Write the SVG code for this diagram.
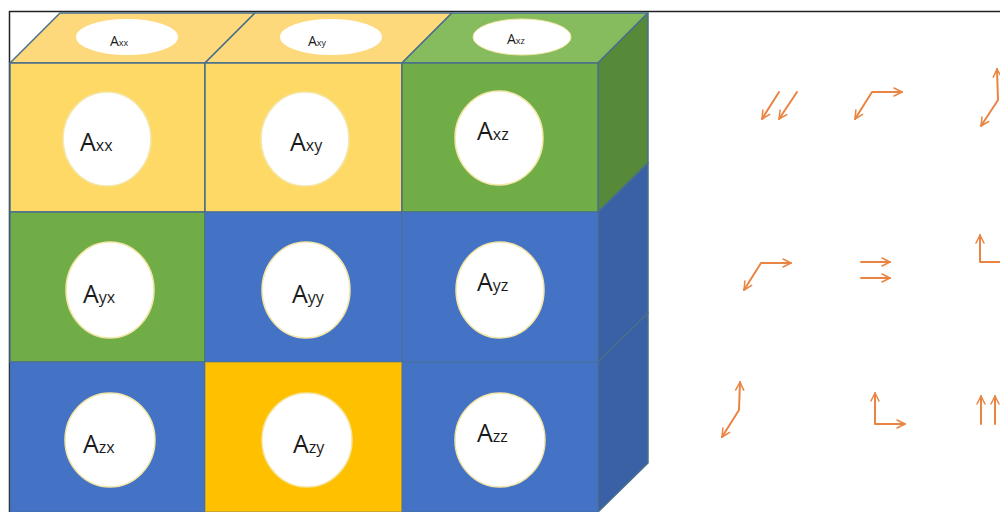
<svg xmlns="http://www.w3.org/2000/svg" width="1000" height="512" viewBox="0 0 1000 512">
<defs>
<style>
.edge{stroke:#4A6F8A;stroke-width:1.5;stroke-linejoin:round}
.y{fill:#FFD966}.yt{fill:#FED97C}.g{fill:#70AD47}.gt{fill:#87BC5E}.gs{fill:#578A38}
.b{fill:#4472C4}.bs{fill:#3A60A6}.o{fill:#FFC000}
.c{fill:#FFFFFF;stroke:#F3E6A6;stroke-width:1.5}
.t{font-family:"Open Sans","Liberation Sans",sans-serif;fill:#1a1a1a}
.big{font-size:25px}.sub{font-size:16px}
.tbig{font-size:14px}.tsub{font-size:9px}
.arr{fill:none;stroke:#EA8443;stroke-width:2;stroke-linecap:round;stroke-linejoin:round;marker-end:url(#ah)}
.arr2{marker-start:url(#ah)}
</style>
<marker id="ah" viewBox="0 0 10 10" refX="9" refY="5" markerWidth="5" markerHeight="5" orient="auto-start-reverse" markerUnits="strokeWidth">
<path d="M1,1 L9,5 L1,9" fill="none" stroke="#EA8443" stroke-width="1.5" stroke-linecap="round" stroke-linejoin="round"/>
</marker>
</defs>
<rect width="1000" height="512" fill="#FFFFFF"/>
<line x1="9" y1="11.5" x2="1000" y2="11.5" stroke="#222" stroke-width="1.5"/>
<line x1="9.5" y1="11" x2="9.5" y2="512" stroke="#222" stroke-width="1.5"/>

<g id="cube-top">
<polygon class="yt edge" points="10,63 60,13 255,13 205,63"/>
<polygon class="yt edge" points="205,63 255,13 452,13 402,63"/>
<polygon class="gt edge" points="402,63 452,13 648,13 598,63"/>
</g>
<g id="cube-side">
<polygon class="gs edge" points="598,63 648,13 648,163 598,212"/>
<polygon class="bs edge" points="598,212 648,163 648,313 598,362"/>
<polygon class="bs edge" points="598,362 648,313 648,463 598,512"/>
</g>

<g id="top-Axx">
<ellipse cx="127" cy="37" rx="51" ry="18" fill="#fff"/>
<text class="t" x="110" y="46"><tspan class="tbig">A</tspan><tspan class="tsub">xx</tspan></text>
</g>
<g id="top-Axy">
<ellipse cx="331" cy="37" rx="51" ry="18" fill="#fff"/>
<text class="t" x="308" y="46"><tspan class="tbig">A</tspan><tspan class="tsub">xy</tspan></text>
</g>
<g id="top-Axz">
<ellipse cx="522" cy="37" rx="49" ry="18" fill="#fff" stroke="#F3E6A6" stroke-width="1"/>
<text class="t" x="507" y="44"><tspan class="tbig">A</tspan><tspan class="tsub">xz</tspan></text>
</g>

<g id="Axx">
<rect class="y edge" x="10" y="63" width="195" height="149"/>
<ellipse class="c" cx="107" cy="139" rx="44" ry="47"/>
<text class="t" x="80" y="151"><tspan class="big">A</tspan><tspan class="sub">xx</tspan></text>
</g>
<g id="Axy">
<rect class="y edge" x="205" y="63" width="197" height="149"/>
<ellipse class="c" cx="305" cy="139" rx="44" ry="47"/>
<text class="t" x="290" y="151"><tspan class="big">A</tspan><tspan class="sub">xy</tspan></text>
</g>
<g id="Axz">
<rect class="g edge" x="402" y="63" width="196" height="149"/>
<ellipse class="c" cx="499" cy="138" rx="44" ry="47"/>
<text class="t" x="477" y="140"><tspan class="big">A</tspan><tspan class="sub">xz</tspan></text>
</g>

<g id="Ayx">
<rect class="g edge" x="10" y="212" width="195" height="150"/>
<ellipse class="c" cx="110" cy="290" rx="44" ry="48"/>
<text class="t" x="83" y="303"><tspan class="big">A</tspan><tspan class="sub">yx</tspan></text>
</g>
<g id="Ayy">
<rect class="b edge" x="205" y="212" width="197" height="150" stroke-opacity="0.4"/>
<ellipse class="c" cx="306" cy="290" rx="44" ry="48"/>
<text class="t" x="292" y="303"><tspan class="big">A</tspan><tspan class="sub">yy</tspan></text>
</g>
<g id="Ayz">
<rect class="b edge" x="402" y="212" width="196" height="150" stroke-opacity="0.4"/>
<ellipse class="c" cx="500" cy="290" rx="44" ry="48"/>
<text class="t" x="477" y="291"><tspan class="big">A</tspan><tspan class="sub">yz</tspan></text>
</g>

<g id="Azx">
<rect class="b edge" x="10" y="362" width="195" height="150" stroke-opacity="0.4"/>
<ellipse class="c" cx="110" cy="440" rx="45" ry="47"/>
<text class="t" x="83" y="453"><tspan class="big">A</tspan><tspan class="sub">zx</tspan></text>
</g>
<g id="Azy">
<rect class="o edge" x="205" y="362" width="197" height="150" stroke-opacity="0.4"/>
<ellipse class="c" cx="307" cy="440" rx="45" ry="47"/>
<text class="t" x="293" y="453"><tspan class="big">A</tspan><tspan class="sub">zy</tspan></text>
</g>
<g id="Azz">
<rect class="b edge" x="402" y="362" width="196" height="150" stroke-opacity="0.4"/>
<ellipse class="c" cx="500" cy="440" rx="45" ry="47"/>
<text class="t" x="477" y="442"><tspan class="big">A</tspan><tspan class="sub">zz</tspan></text>
</g>

<g id="arrows">
<path class="arr" d="M779,92 L762,119"/>
<path class="arr" d="M797,92 L779,119"/>
<path class="arr arr2" d="M855,119 L872,92 L902,92"/>
<path class="arr arr2" d="M981,126 L998,100 L997,69"/>
<path class="arr arr2" d="M744,290 L761,263 L791,263"/>
<path class="arr" d="M861,262 L890,262"/>
<path class="arr" d="M861,278 L890,278"/>
<path class="arr" d="M980,262 L980,235"/>
<path d="M980,262 L1000,262" fill="none" stroke="#EA8443" stroke-width="2"/>
<path class="arr arr2" d="M722,437 L739,410 L740,382"/>
<path class="arr arr2" d="M875,393 L875,424 L905,424"/>
<path class="arr" d="M981,424 L981,396"/>
<path class="arr" d="M995,424 L995,396"/>
</g>
</svg>
